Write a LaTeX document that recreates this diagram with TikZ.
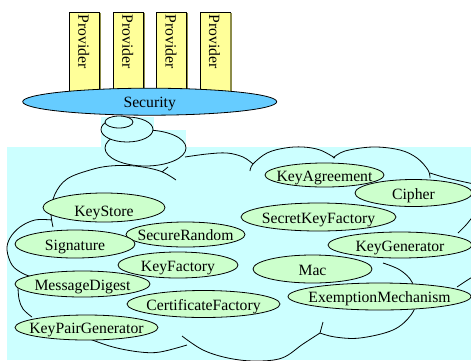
\documentclass[tikz,border=0pt]{standalone}
\usepackage{fontspec}
\setmainfont{Liberation Serif}
\usetikzlibrary{shapes.geometric}
\definecolor{cloudbg}{HTML}{CCFFFF}
\definecolor{algofill}{HTML}{CCFFCC}
\definecolor{secfill}{HTML}{66CCFF}
\definecolor{provfill}{HTML}{FFFF99}
\definecolor{provshade}{HTML}{8C8C4A}
\begin{document}
\begin{tikzpicture}[x=1pt, y=-1pt, line width=0.8pt,
  labelfont/.style={font=\fontsize{15.7}{18}\selectfont},
  algo/.style={ellipse, draw=black, fill=algofill, inner sep=0pt,
    text height=12pt, text depth=0pt, labelfont},
  security/.style={ellipse, draw=black, fill=secfill, inner sep=0pt,
    text height=12pt, text depth=0pt, labelfont,
    minimum width=254pt, minimum height=27pt},
  provbox/.style={rectangle, draw=black, fill=provfill, anchor=north,
    minimum width=30pt, minimum height=88pt, inner sep=0pt, line width=0.7pt},
  provtext/.style={rotate=-90, anchor=base west, inner sep=0pt, labelfont},
  cloudarc/.style={line width=0.8pt, smooth, tension=0.6},
  bubble/.style={draw=black, fill=cloudbg, line width=0.8pt}]
\useasboundingbox (0,0) rectangle (471,360);

% pale cyan ground behind the cloud and the thought bubbles
\fill[cloudbg] (7,147) rectangle (471,360);
\fill[cloudbg] (101,117) rectangle (154,147);
\fill[cloudbg] (101,130) rectangle (186,147);

% outline of the cloud, drawn as separate arcs
\draw[cloudarc] plot coordinates {(176,180) (160,171) (135,166) (110,166) (90,170) (67,179) (55,194) (51,212) (53,227)};
\draw (162,172) -- (168,167);
\draw[cloudarc] plot coordinates {(52,220) (35,220) (20,227) (10,238) (7,250) (12,265) (22,273) (32,277)};
\draw[cloudarc] plot coordinates {(18,287) (19,299) (23,309) (32,317)};
\draw[cloudarc] plot coordinates {(87,338) (113,347) (140,352) (160,352) (187,345)};
\draw[cloudarc] plot coordinates {(182,336) (203,350) (228,358) (255,361) (282,358) (303,344) (320,333)};
\draw (323,322) -- (320,333);
\draw[cloudarc] plot coordinates {(383,263) (400,270) (412,282) (416,300) (411,315) (393,330) (360,338) (335,337) (320,333)};
\draw[cloudarc] plot coordinates {(457,287) (466,281) (474,276)};
\draw[cloudarc] plot coordinates {(458,233) (466,225) (474,215)};
\draw[cloudarc] plot coordinates {(430,173) (447,178) (474,184)};
\draw[cloudarc] plot coordinates {(185,157) (207,154) (227,153) (243,157) (253,164)};
\draw[cloudarc] plot coordinates {(250,171) (253,164) (267,153) (285,148) (303,147) (320,150) (335,158)};
\draw[cloudarc] plot coordinates {(333,158) (345,151) (373,147) (400,150) (417,158) (428,170) (430,178)};

% thought bubbles rising from Security
\draw[bubble] (145.5,148) ellipse [x radius=40.5, y radius=18];
\draw[bubble] (127,129.5) ellipse [x radius=26, y radius=12.5];
\draw[bubble] (119,122) ellipse [x radius=14, y radius=6];

% engine classes inside the cloud
\node[algo, minimum width=122pt, minimum height=29pt, text height=17pt] (keystore) at (104,207.5) {\makebox[0pt]{KeyStore}};
\node[algo, minimum width=119pt, minimum height=25pt] (securerandom) at (185.5,234.5) {\makebox[0pt]{SecureRandom}};
\node[algo, minimum width=120pt, minimum height=28pt] (signature) at (75,244) {\makebox[0pt]{Signature}};
\node[algo, minimum width=120pt, minimum height=26pt] (keyfactory) at (178,265) {\makebox[0pt]{KeyFactory}};
\node[algo, minimum width=135pt, minimum height=26pt] (messagedigest) at (82.5,284) {\makebox[0pt]{MessageDigest}};
\node[algo, minimum width=153pt, minimum height=27pt] (certfactory) at (203.5,304) {\makebox[0pt]{CertificateFactory}};
\node[algo, minimum width=143pt, minimum height=25pt] (keypairgen) at (86.5,327.5) {\makebox[0pt]{KeyPairGenerator}};
\node[algo, minimum width=119pt, minimum height=24pt] (keyagreement) at (324.5,175) {\makebox[0pt]{KeyAgreement}};
\node[algo, minimum width=117pt, minimum height=27pt] (cipher) at (413.5,193) {\makebox[0pt]{Cipher}};
\node[algo, minimum width=155pt, minimum height=28pt] (secretkeyfactory) at (318.5,217) {\makebox[0pt]{SecretKeyFactory}};
\node[algo, minimum width=144pt, minimum height=26pt] (keygenerator) at (400,245) {\makebox[0pt]{KeyGenerator}};
\node[algo, minimum width=119pt, minimum height=28pt] (mac) at (312.5,269) {\makebox[0pt]{Mac}};
\node[algo, minimum width=183pt, minimum height=27pt] (exemption) at (379.5,296.5) {\makebox[0pt]{ExemptionMechanism}};

% providers plugged into Security
\foreach \px/\nm in {84.3/provA, 128.3/provB, 171.7/provC, 215/provD} {
  \node[provbox] (\nm) at (\px,12.3) {};
  \draw[provshade, line width=1.4pt] ([xshift=0.6pt,yshift=-0.4pt]\nm.north east) -- ([xshift=0.6pt]\nm.south east);
  \node[provtext] (\nm-label) at (\px-6,14.5) {Provider};
}

\node[security] (security) at (149.7,101.7) {\makebox[0pt]{Security}};
\end{tikzpicture}
\end{document}
